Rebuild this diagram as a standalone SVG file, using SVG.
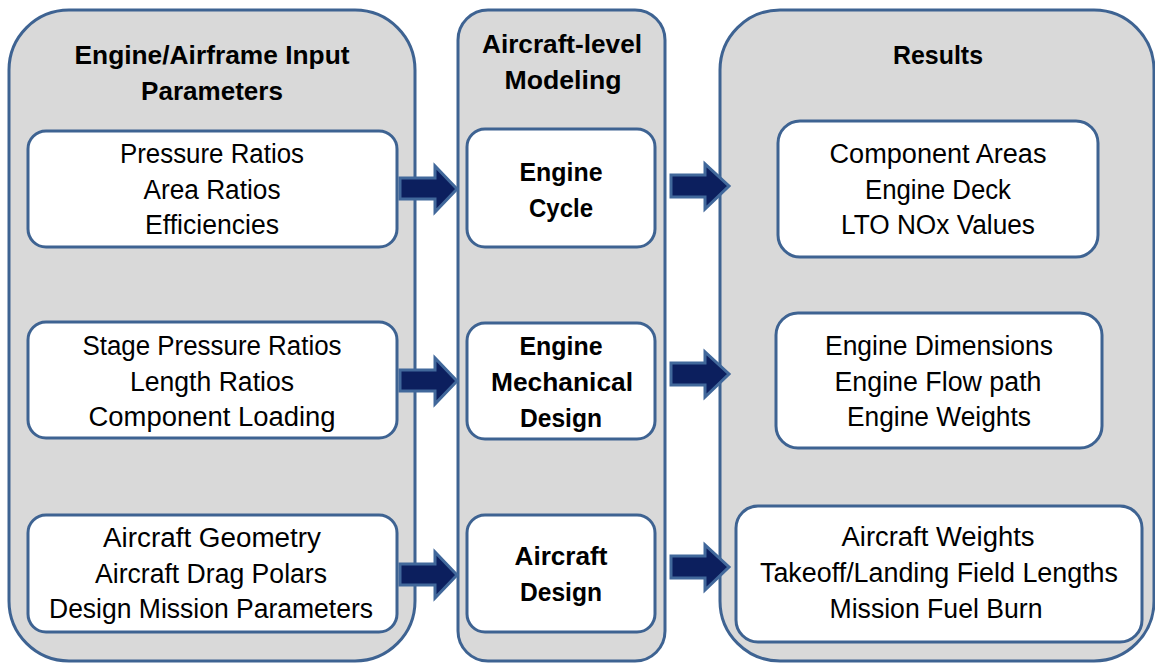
<svg xmlns="http://www.w3.org/2000/svg" width="1155" height="664" viewBox="0 0 1155 664">
  <style>
    .panel { fill: #d9d9d9; stroke: #3e6392; stroke-width: 3; }
    .box { fill: #ffffff; stroke: #3e6392; stroke-width: 3; }
    .arrow { fill: #0c1f5e; stroke: #41689b; stroke-width: 3; stroke-linejoin: miter; }
    text { font-family: "Liberation Sans", Arial, sans-serif; fill: #000000; text-anchor: middle; }
    .body { font-size: 27px; }
    .head { font-size: 25px; font-weight: bold; }
  </style>
  <rect width="1155" height="664" fill="#ffffff"/>

  <!-- column panels -->
  <g id="panel-inputs">
    <rect class="panel" x="9" y="10" width="406" height="651" rx="60" ry="60"/>
    <text class="head" x="212" y="64" textLength="275" lengthAdjust="spacingAndGlyphs">Engine/Airframe Input</text>
    <text class="head" x="212" y="100" textLength="142" lengthAdjust="spacingAndGlyphs">Parameters</text>
  </g>
  <g id="panel-modeling">
    <rect class="panel" x="458" y="10" width="207" height="651" rx="30" ry="30"/>
    <text class="head" x="562" y="53" textLength="160" lengthAdjust="spacingAndGlyphs">Aircraft-level</text>
    <text class="head" x="563" y="89" textLength="117" lengthAdjust="spacingAndGlyphs">Modeling</text>
  </g>
  <g id="panel-results">
    <rect class="panel" x="720" y="10" width="434" height="651" rx="60" ry="60"/>
    <text class="head" x="938" y="64" textLength="90" lengthAdjust="spacingAndGlyphs">Results</text>
  </g>

  <!-- input boxes -->
  <g id="in-cycle">
    <rect class="box" x="28" y="131" width="369" height="116" rx="18" ry="18"/>
    <text class="body" x="212" y="163" textLength="184" lengthAdjust="spacingAndGlyphs">Pressure Ratios</text>
    <text class="body" x="212" y="199" textLength="137" lengthAdjust="spacingAndGlyphs">Area Ratios</text>
    <text class="body" x="212" y="234" textLength="134" lengthAdjust="spacingAndGlyphs">Efficiencies</text>
  </g>
  <g id="in-mechanical">
    <rect class="box" x="28" y="322" width="369" height="116" rx="18" ry="18"/>
    <text class="body" x="212" y="355" textLength="259" lengthAdjust="spacingAndGlyphs">Stage Pressure Ratios</text>
    <text class="body" x="212" y="391" textLength="164" lengthAdjust="spacingAndGlyphs">Length Ratios</text>
    <text class="body" x="212" y="426" textLength="247" lengthAdjust="spacingAndGlyphs">Component Loading</text>
  </g>
  <g id="in-aircraft">
    <rect class="box" x="28" y="515" width="369" height="117" rx="18" ry="18"/>
    <text class="body" x="212" y="547" textLength="218" lengthAdjust="spacingAndGlyphs">Aircraft Geometry</text>
    <text class="body" x="211" y="583" textLength="232" lengthAdjust="spacingAndGlyphs">Aircraft Drag Polars</text>
    <text class="body" x="211" y="618" textLength="324" lengthAdjust="spacingAndGlyphs">Design Mission Parameters</text>
  </g>

  <!-- modeling boxes -->
  <g id="mod-cycle">
    <rect class="box" x="467" y="129" width="188" height="118" rx="18" ry="18"/>
    <text class="head" x="561" y="181" textLength="83" lengthAdjust="spacingAndGlyphs">Engine</text>
    <text class="head" x="561" y="217" textLength="64" lengthAdjust="spacingAndGlyphs">Cycle</text>
  </g>
  <g id="mod-mechanical">
    <rect class="box" x="467" y="323" width="188" height="116" rx="18" ry="18"/>
    <text class="head" x="561" y="355" textLength="83" lengthAdjust="spacingAndGlyphs">Engine</text>
    <text class="head" x="562" y="391" textLength="142" lengthAdjust="spacingAndGlyphs">Mechanical</text>
    <text class="head" x="561" y="427" textLength="82" lengthAdjust="spacingAndGlyphs">Design</text>
  </g>
  <g id="mod-aircraft">
    <rect class="box" x="467" y="515" width="188" height="117" rx="18" ry="18"/>
    <text class="head" x="561" y="565" textLength="93" lengthAdjust="spacingAndGlyphs">Aircraft</text>
    <text class="head" x="561" y="601" textLength="82" lengthAdjust="spacingAndGlyphs">Design</text>
  </g>

  <!-- result boxes -->
  <g id="out-cycle">
    <rect class="box" x="778" y="121" width="320" height="136" rx="22" ry="22"/>
    <text class="body" x="938" y="163" textLength="217" lengthAdjust="spacingAndGlyphs">Component Areas</text>
    <text class="body" x="938" y="199" textLength="146" lengthAdjust="spacingAndGlyphs">Engine Deck</text>
    <text class="body" x="938" y="234" textLength="194" lengthAdjust="spacingAndGlyphs">LTO NOx  Values</text>
  </g>
  <g id="out-mechanical">
    <rect class="box" x="776" y="313" width="326" height="135" rx="22" ry="22"/>
    <text class="body" x="939" y="355" textLength="228" lengthAdjust="spacingAndGlyphs">Engine Dimensions</text>
    <text class="body" x="938" y="391" textLength="207" lengthAdjust="spacingAndGlyphs">Engine Flow path</text>
    <text class="body" x="939" y="426" textLength="184" lengthAdjust="spacingAndGlyphs">Engine Weights</text>
  </g>
  <g id="out-aircraft">
    <rect class="box" x="736" y="506" width="406" height="136" rx="22" ry="22"/>
    <text class="body" x="938" y="546" textLength="193" lengthAdjust="spacingAndGlyphs">Aircraft Weights</text>
    <text class="body" x="939" y="582" textLength="358" lengthAdjust="spacingAndGlyphs">Takeoff/Landing Field Lengths</text>
    <text class="body" x="936" y="618" textLength="213" lengthAdjust="spacingAndGlyphs">Mission Fuel Burn</text>
  </g>

  <!-- block arrows between columns -->
  <g id="connectors">
    <path class="arrow" d="M400,178 H435 V166 L457,189 L435,212 V199 H400 Z"/>
    <path class="arrow" d="M400,370 H435 V358 L457,381 L435,404 V391 H400 Z"/>
    <path class="arrow" d="M400,564 H435 V552 L457,575 L435,598 V585 H400 Z"/>
    <path class="arrow" d="M671,175 H705 V164 L729,186 L705,209 V197 H671 Z"/>
    <path class="arrow" d="M671,363 H705 V352 L729,374 L705,397 V385 H671 Z"/>
    <path class="arrow" d="M671,556 H705 V545 L729,567 L705,590 V578 H671 Z"/>
  </g>
</svg>
